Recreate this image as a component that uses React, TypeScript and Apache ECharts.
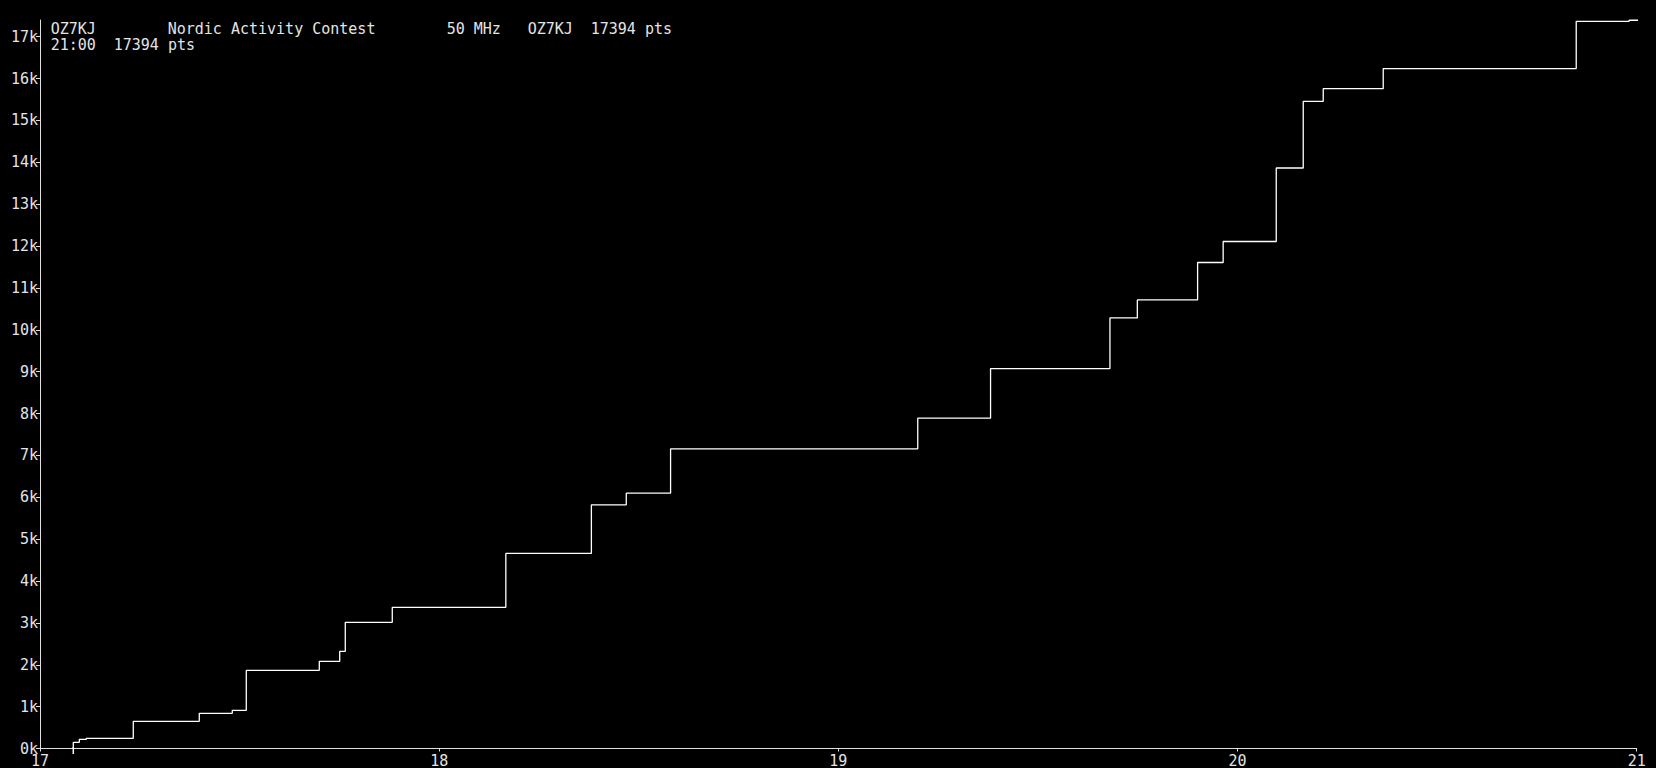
import React, { useEffect, useRef } from "react";
import * as echarts from "echarts";

// Step times (decimal hours) and cumulative score after each QSO
const times: number[] = [
  17.0834, 17.0834, 17.0985, 17.116, 17.2337, 17.399, 17.4817, 17.5168,
  17.6997, 17.7508, 17.7648, 17.8825, 18.167, 18.3813, 18.4687, 18.5797,
  19.1989, 19.3813, 19.6804, 19.749, 19.9, 19.964, 20.097, 20.1646,
  20.2147, 20.365, 20.8485, 20.981, 21.033,
];
const scores: number[] = [
  0, 148, 220, 244, 650, 841, 912, 1868,
  2083, 2322, 3014, 3372, 4660, 5821, 6098, 7158,
  7889, 9074, 10285, 10715, 11608, 12110, 13865, 15456,
  15759, 16239, 17369, 17394, 17394,
];
const xTicks: number[] = [17, 18, 19, 20, 21];
const yTicks: number[] = [
  0, 1000, 2000, 3000, 4000, 5000, 6000, 7000, 8000, 9000, 10000, 11000,
  12000, 13000, 14000, 15000, 16000, 17000,
];
const titleLine1: string[] = ["OZ7KJ", "Nordic Activity Contest", "50 MHz", "OZ7KJ", "17394 pts"];
const titleLine1Cols: number[] = [0, 13, 44, 53, 60];
const titleLine2: string[] = ["21:00", "17394 pts"];
const titleLine2Cols: number[] = [0, 7];

const FONT = "'DejaVu Sans Mono', 'Liberation Mono', monospace";
const TXT = "#e4e4e4";

export default function App() {
  const ref = useRef<HTMLDivElement>(null);
  useEffect(() => {
    document.body.style.margin = "0";
    document.body.style.background = "#000";
    const chart = echarts.init(ref.current!, null, { renderer: "svg" });
    const charW = 9;
    const x0 = 50.7;
    const texts: any[] = [];
    titleLine1.forEach((t, i) =>
      texts.push({
        type: "text",
        x: x0 + titleLine1Cols[i] * charW,
        y: 29,
        style: { text: t, fill: TXT, font: `15px ${FONT}`, textVerticalAlign: "middle" },
      })
    );
    titleLine2.forEach((t, i) =>
      texts.push({
        type: "text",
        x: x0 + titleLine2Cols[i] * charW,
        y: 44.5,
        style: { text: t, fill: TXT, font: `15px ${FONT}`, textVerticalAlign: "middle" },
      })
    );
    chart.setOption({
      animation: false,
      backgroundColor: "#000000",
      grid: { left: 40, right: 19.3, top: 20, bottom: 19.5, containLabel: false },
      graphic: texts,
      xAxis: {
        type: "value",
        min: 17,
        max: 21,
        interval: 1,
        splitLine: { show: false },
        axisLine: { lineStyle: { color: "#e0e0e0", width: 1 } },
        axisTick: { length: 3, inside: false, lineStyle: { color: "#e0e0e0" }, customValues: xTicks },
        axisLabel: {
          color: TXT,
          fontFamily: FONT,
          fontSize: 15,
          lineHeight: 12,
          margin: 6,
          customValues: xTicks,
          formatter: (v: number) => String(v),
        },
      },
      yAxis: {
        type: "value",
        min: 0,
        max: 17400,
        interval: 1000,
        splitLine: { show: false },
        axisLine: { show: true, lineStyle: { color: "#e0e0e0", width: 1 } },
        axisTick: { show: true, length: 4, lineStyle: { color: "#e0e0e0" }, customValues: yTicks },
        axisLabel: {
          color: TXT,
          fontFamily: FONT,
          fontSize: 15,
          lineHeight: 12,
          margin: 2,
          customValues: yTicks,
          formatter: (v: number) => `${Math.round(v / 1000)}k`,
        },
      },
      series: [
        {
          type: "line",
          step: "end",
          clip: false,
          symbol: "none",
          data: times.map((t, i) => [t, scores[i]]),
          lineStyle: { color: "#ffffff", width: 1.3 },
          markPoint: {
            symbol: "rect",
            symbolSize: [1.5, 7],
            symbolOffset: [0, 2],
            itemStyle: { color: "#ffffff" },
            label: { show: false },
            data: [{ coord: [times[0], scores[0]] }],
          },
        },
      ],
    });
    return () => chart.dispose();
  }, []);
  return <div ref={ref} style={{ width: 1656, height: 768 }} />;
}
